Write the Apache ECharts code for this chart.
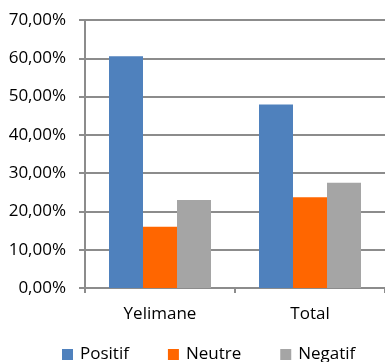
<!DOCTYPE html>
<html>
<head>
<meta charset="utf-8">
<script src="https://cdn.jsdelivr.net/npm/echarts@6/dist/echarts.min.js"></script>
<style>
  html, body { margin: 0; padding: 0; background: #fff; }
  #chart { width: 385px; height: 362px; }
</style>
</head>
<body>
<div id="chart"></div>
<script>
// Share of responses per zone
const categories = ['Yelimane', 'Total'];
const positif = [60.5, 47.9];
const neutre = [16.0, 23.7];
const negatif = [23.0, 27.5];
const seriesNames = ['Positif', 'Neutre', 'Negatif'];
const colors = ['#4f81bd', '#ff6600', '#a5a5a5'];

const font = '"Open Sans", sans-serif';
const chart = echarts.init(document.getElementById('chart'));

const fmt = v => v.toFixed(2).replace('.', ',') + '%';

chart.setOption({
  animation: false,
  textStyle: { fontFamily: font },
  grid: { left: 85, right: 0, top: 20, bottom: 74 },
  legend: {
    data: seriesNames,
    left: 57,
    top: 341,
    itemWidth: 11,
    itemHeight: 11,
    itemGap: 39,
    icon: 'rect',
    textStyle: { fontFamily: font, fontSize: 17, color: '#000', padding: [0, 0, 0, 2] }
  },
  xAxis: {
    type: 'category',
    data: categories,
    axisLine: { lineStyle: { color: '#8c8c8c', width: 2 } },
    axisTick: { show: true, length: 5, lineStyle: { color: '#8c8c8c', width: 2 } },
    axisLabel: { fontFamily: font, fontSize: 17, color: '#000', margin: 18 }
  },
  yAxis: {
    type: 'value',
    min: 0,
    max: 70,
    interval: 10,
    axisLine: { show: true, lineStyle: { color: '#8c8c8c', width: 2 } },
    axisTick: { show: true, length: 6, lineStyle: { color: '#8c8c8c', width: 2 } },
    splitLine: { lineStyle: { color: '#8c8c8c', width: 2 } },
    axisLabel: { fontFamily: font, fontSize: 17, color: '#000', margin: 19, formatter: fmt }
  },
  series: [
    { name: seriesNames[0], type: 'bar', data: positif, itemStyle: { color: colors[0] }, barGap: '0%', barCategoryGap: '32%' },
    { name: seriesNames[1], type: 'bar', data: neutre, itemStyle: { color: colors[1] }, barGap: '0%', barCategoryGap: '32%' },
    { name: seriesNames[2], type: 'bar', data: negatif, itemStyle: { color: colors[2] }, barGap: '0%', barCategoryGap: '32%' }
  ]
});
</script>
</body>
</html>
